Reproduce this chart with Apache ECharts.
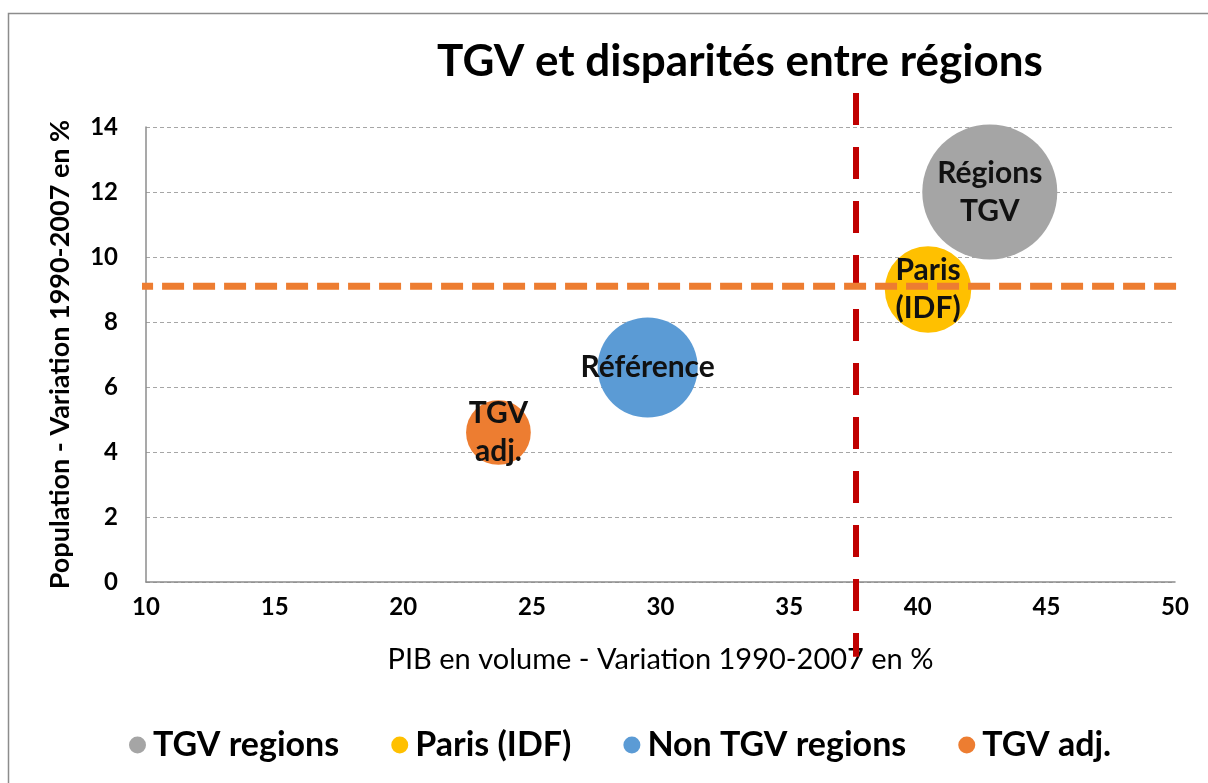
<!DOCTYPE html>
<html>
<head>
<meta charset="utf-8">
<script src="https://cdn.jsdelivr.net/npm/echarts@6/dist/echarts.min.js"></script>
<style>
  html, body { margin: 0; padding: 0; background: #fff; }
  #chart { width: 1208px; height: 783px; }
</style>
</head>
<body>
<div id="chart"></div>
<script>
// données
var groupes = ['TGV regions', 'Paris (IDF)', 'Non TGV regions', 'TGV adj.'];
var etiquettes = ['Régions\nTGV', 'Paris\n(IDF)', 'Référence', 'TGV\nadj.'];
var pib = [42.8, 40.4, 29.5, 23.7];          // PIB en volume, variation en %
var population = [12.0, 9.0, 6.6, 4.6];      // population, variation en %
var poids = [100, 41, 55, 23];               // taille des bulles
var couleurs = ['#a5a5a5', '#ffc000', '#5b9bd5', '#ed7d31'];

// lignes de référence (seuils) et leur étendue
var seuilPib = 37.6;
var seuilPop = 9.1;
var etendueSeuilPib = [15.05, -2.3];
var etendueSeuilPop = [9.42, 50.4];

var xTicks = { min: 10, max: 50, interval: 5 };
var yTicks = { min: 0, max: 14, interval: 2 };

var police = 'Lato, "Open Sans", sans-serif';

var series = groupes.map(function (g, i) {
    return {
        name: g,
        type: 'scatter',
        data: [[pib[i], population[i], poids[i]]],
        symbolSize: function (v) { return Math.sqrt(v[2]) * 13.5; },
        itemStyle: { color: couleurs[i], opacity: 1 },
        label: {
            show: true,
            position: 'inside',
            formatter: etiquettes[i],
            color: '#111',
            fontFamily: police,
            fontWeight: 'bold',
            fontSize: 30,
            lineHeight: 38
        },
        z: 3
    };
});

series.push({
    type: 'line',
    data: [[seuilPib, etendueSeuilPib[0]], [seuilPib, etendueSeuilPib[1]]],
    clip: false,
    symbol: 'none',
    silent: true,
    lineStyle: { color: '#c00000', width: 6, type: [32, 22], cap: 'butt' },
    z: 4
});
series.push({
    type: 'line',
    data: [[etendueSeuilPop[0], seuilPop], [etendueSeuilPop[1], seuilPop]],
    clip: false,
    symbol: 'none',
    silent: true,
    lineStyle: { color: '#ed7d31', width: 7, type: [22, 9], cap: 'butt' },
    z: 4
});

var myChart = echarts.init(document.getElementById('chart'));
var option = {
    backgroundColor: '#fff',
    animation: false,
    textStyle: { fontFamily: police },
    title: {
        text: 'TGV et disparités entre régions',
        left: 735,
        textAlign: 'center',
        top: 35,
        textStyle: { fontFamily: police, fontSize: 44, fontWeight: 'bold', color: '#000' }
    },
    graphic: [{
        type: 'rect',
        shape: { x: 8.5, y: 13.5, width: 1400, height: 1000 },
        style: { fill: null, stroke: '#8c8c8c', lineWidth: 1.5 },
        silent: true
    }],
    grid: { left: 146, right: 33, top: 127, bottom: 201, containLabel: false },
    legend: {
        data: groupes,
        left: 124,
        top: 723,
        icon: 'circle',
        itemWidth: 17,
        itemHeight: 17,
        itemGap: 52,
        textStyle: { fontFamily: police, fontSize: 34, fontWeight: 'bold', color: '#000', padding: [0, 0, 0, 2] }
    },
    xAxis: {
        type: 'value',
        min: xTicks.min, max: xTicks.max, interval: xTicks.interval,
        name: 'PIB en volume - Variation 1990-2007 en %',
        nameLocation: 'middle',
        nameGap: 63,
        nameTextStyle: { fontFamily: police, fontSize: 29, color: '#000' },
        axisLine: { show: true, lineStyle: { color: '#8c8c8c', width: 1.5 } },
        axisTick: { show: false },
        axisLabel: { margin: 13, fontFamily: police, fontSize: 24, fontWeight: 'bold', color: '#000' },
        splitLine: { show: false }
    },
    yAxis: {
        type: 'value',
        min: yTicks.min, max: yTicks.max, interval: yTicks.interval,
        name: 'Population - Variation 1990-2007 en %',
        nameLocation: 'middle',
        nameGap: 72,
        nameTextStyle: { fontFamily: police, fontSize: 27, color: '#000', fontWeight: 'bold' },
        axisLine: { show: true, lineStyle: { color: '#8c8c8c', width: 1.5 } },
        axisTick: { show: false },
        axisLabel: { margin: 28, fontFamily: police, fontSize: 24, fontWeight: 'bold', color: '#000' },
        splitLine: { show: true, lineStyle: { color: '#a6a6a6', type: [4, 3], width: 1 } }
    },
    series: series
};
myChart.setOption(option);
</script>
</body>
</html>
